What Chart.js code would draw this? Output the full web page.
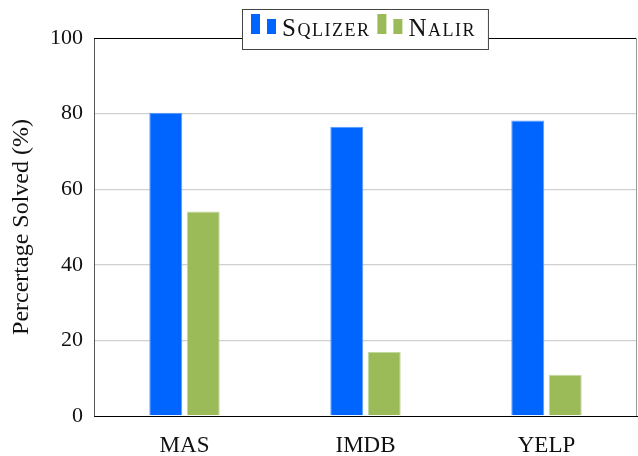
<!DOCTYPE html>
<html>
<head>
<meta charset="utf-8">
<script src="https://cdn.jsdelivr.net/npm/chart.js"></script>
<style>
  html, body { margin: 0; padding: 0; background: #fff; }
  #wrap { width: 638px; height: 456px; }
</style>
</head>
<body>
<div id="wrap"><canvas id="grafico" width="638" height="456"></canvas></div>
<script>
// datos
const categorias = ['MAS', 'IMDB', 'YELP'];
const sqlizer = [80.2, 76.5, 78.2];
const nalir = [54.1, 16.9, 10.9];
const ticksY = [0, 20, 40, 60, 80, 100];
const series = ['Sqlizer', 'Nalir'];

const AZUL = '#0064ff';
const VERDE = '#9bbb59';
const SERIF = '"Liberation Serif", "DejaVu Serif", serif';

// marco arriba / derecha
const marco = {
  id: 'marco',
  afterDraw(chart) {
    const { ctx, chartArea: a } = chart;
    ctx.save();
    ctx.lineWidth = 1;
    ctx.strokeStyle = '#000';
    ctx.beginPath();
    ctx.moveTo(a.left, a.top + 0.5);
    ctx.lineTo(a.right, a.top + 0.5);
    ctx.stroke();
    ctx.strokeStyle = '#999';
    ctx.beginPath();
    ctx.moveTo(a.right - 0.5, a.top);
    ctx.lineTo(a.right - 0.5, a.bottom);
    ctx.stroke();
    ctx.restore();
  }
};

// leyenda estilo pgfplots (dos barritas + versalitas)
const leyenda = {
  id: 'leyenda',
  afterDraw(chart) {
    const { ctx, chartArea: a } = chart;
    const sets = chart.data.datasets;
    ctx.save();
    ctx.font = 'small-caps 25px ' + SERIF;
    if ('fontVariantCaps' in ctx) ctx.fontVariantCaps = 'small-caps';
    if ('letterSpacing' in ctx) ctx.letterSpacing = '1.5px';
    const anchos = sets.map(d => ctx.measureText(d.label).width);
    const icono = 25, sep = 6, entre = 7, padL = 9, padR = 13;
    let total = padL + padR + (sets.length - 1) * entre;
    anchos.forEach(w => total += icono + sep + w);
    const x0 = Math.round((a.left + a.right) / 2 - total / 2);
    const y0 = 9, alto = 41;
    ctx.fillStyle = '#fff';
    ctx.fillRect(x0, y0, total, alto);
    ctx.strokeStyle = '#444';
    ctx.lineWidth = 1;
    ctx.strokeRect(x0 + 0.5, y0 + 0.5, total - 1, alto - 1);
    let x = x0 + padL;
    const base = y0 + 25;
    sets.forEach((d, i) => {
      ctx.fillStyle = d.backgroundColor;
      ctx.fillRect(x, base - 20, 9, 20);
      ctx.fillRect(x + 16, base - 15, 9, 15);
      x += icono + sep;
      ctx.fillStyle = '#111';
      ctx.textBaseline = 'alphabetic';
      ctx.fillText(d.label, x, base + 1.5);
      x += anchos[i] + entre;
    });
    ctx.restore();
  }
};

new Chart(document.getElementById('grafico'), {
  type: 'bar',
  data: {
    labels: categorias,
    datasets: [
      { label: series[0], data: sqlizer, backgroundColor: AZUL, borderColor: '#5a9cff', borderWidth: 1 },
      { label: series[1], data: nalir, backgroundColor: VERDE, borderColor: '#c3d8a0', borderWidth: 1 }
    ]
  },
  options: {
    responsive: false,
    animation: false,
    devicePixelRatio: 1,
    categoryPercentage: 0.414,
    barPercentage: 0.88,
    layout: { padding: { left: 0, right: 1, top: 38, bottom: 0 } },
    plugins: {
      legend: { display: false },
      tooltip: { enabled: false }
    },
    scales: {
      x: {
        grid: { display: false, drawTicks: false },
        border: { color: '#000', width: 1 },
        ticks: { color: '#111', padding: 16, font: { family: SERIF, size: 23 } },
        afterFit: s => { s.height = 40; }
      },
      y: {
        min: 0,
        max: 100,
        afterBuildTicks: s => { s.ticks = ticksY.map(v => ({ value: v })); },
        grid: {
          drawTicks: false,
          lineWidth: 1.3,
          color: c => (c.tick && (c.tick.value === 0 || c.tick.value === 100)) ? 'rgba(0,0,0,0)' : '#d0d0d0'
        },
        border: { color: '#555', width: 1 },
        ticks: { color: '#111', padding: 11, font: { family: SERIF, size: 22 } },
        title: {
          display: true,
          text: 'Percertage Solved (%)',
          color: '#111',
          padding: { top: 7, bottom: 0 },
          font: { family: SERIF, size: 24 }
        },
        afterFit: s => { s.width = 94; }
      }
    }
  },
  plugins: [marco, leyenda]
});
</script>
</body>
</html>
